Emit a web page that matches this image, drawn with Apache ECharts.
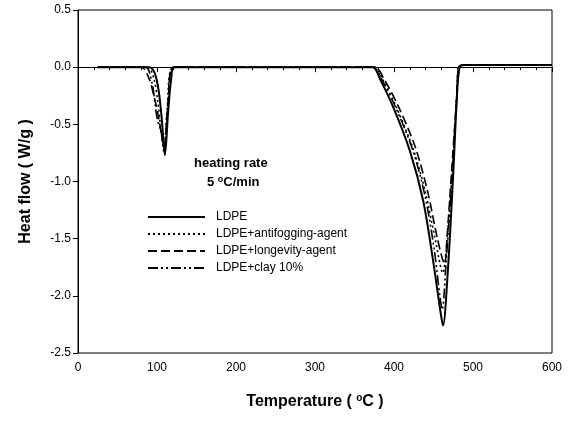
<!DOCTYPE html>
<html>
<head>
<meta charset="utf-8">
<script src="https://cdn.jsdelivr.net/npm/echarts@6/dist/echarts.min.js"></script>
<style>html,body{margin:0;padding:0;background:#fff}#c{width:576px;height:421px}</style>
</head>
<body>
<div id="c"></div>
<script>
// ---- data ----
const seriesNames = ['LDPE', 'LDPE+antifogging-agent', 'LDPE+longevity-agent', 'LDPE+clay 10%'];

const tLDPE = [25, 90, 97, 102, 106, 110, 114, 118, 122, 200, 300, 373, 382, 399, 420, 437, 449, 458, 462, 468, 475, 479, 483, 490, 600];
const hLDPE = [0, 0, -0.05, -0.2, -0.45, -0.77, -0.4, -0.1, 0, 0, 0, 0, -0.1, -0.35, -0.73, -1.17, -1.67, -2.1, -2.26, -1.8, -0.93, -0.35, 0, 0.02, 0.02];

const tAnti = [25, 88, 96, 101, 105, 109, 113, 121, 200, 300, 374, 385, 403, 425, 440, 452, 462, 466, 474, 479, 482, 490, 600];
const hAnti = [0, 0, -0.1, -0.3, -0.55, -0.72, -0.35, 0, 0, 0, 0, -0.1, -0.35, -0.73, -1.1, -1.5, -1.8, -1.6, -0.9, -0.3, 0, 0.02, 0.02];

const tLong = [25, 80, 90, 96, 101, 106, 109, 114, 121, 200, 300, 376, 387, 406, 427, 443, 455, 464, 467, 474, 479, 482, 490, 600];
const hLong = [0, 0, -0.1, -0.25, -0.4, -0.6, -0.7, -0.3, 0, 0, 0, 0, -0.1, -0.35, -0.7, -1.1, -1.5, -1.72, -1.5, -0.8, -0.3, 0, 0.02, 0.02];

const tClay = [25, 85, 94, 99, 102, 105, 109, 114, 121, 200, 300, 374, 384, 402, 424, 440, 451, 458, 461, 466, 474, 479, 483, 490, 600];
const hClay = [0, 0, -0.15, -0.4, -0.5, -0.55, -0.75, -0.35, 0, 0, 0, 0, -0.1, -0.35, -0.73, -1.15, -1.6, -2.0, -2.12, -1.7, -0.9, -0.3, 0, 0.02, 0.02];

const xTicks = [0, 100, 200, 300, 400, 500, 600];
const yTicks = [0.5, 0.0, -0.5, -1.0, -1.5, -2.0, -2.5];

// ---- chart ----
function pairs(t, h) { return t.map((v, i) => [v, h[i]]); }
const font = '"Liberation Sans", Arial, sans-serif';
const styles = [
  { width: 2, type: 'solid' },
  { width: 1.6, type: [2, 3] },
  { width: 1.6, type: [9, 4] },
  { width: 1.6, type: [10, 3, 2, 3, 2, 3] }
];
const datas = [pairs(tLDPE, hLDPE), pairs(tAnti, hAnti), pairs(tLong, hLong), pairs(tClay, hClay)];

const chart = echarts.init(document.getElementById('c'), null, { renderer: 'canvas' });
chart.setOption({
  animation: false,
  backgroundColor: '#fff',
  textStyle: { fontFamily: font },
  grid: { left: 78, right: 24, top: 10, bottom: 68, show: true, borderColor: '#000', borderWidth: 1 },
  xAxis: {
    type: 'value', min: xTicks[0], max: xTicks[xTicks.length - 1], interval: 100,
    axisLine: { lineStyle: { color: '#000', width: 1 } },
    axisTick: { length: 5, lineStyle: { color: '#000' } },
    minorTick: { show: true, splitNumber: 5, length: 3, lineStyle: { color: '#000' } },
    splitLine: { show: false },
    axisLabel: { color: '#000', fontSize: 12, fontFamily: font, margin: 9 },
    name: 'Temperature ( {sup|o}C )', nameLocation: 'middle', nameGap: 40,
    nameTextStyle: { fontSize: 16, fontWeight: 'bold', color: '#000', fontFamily: font,
      rich: { sup: { fontSize: 10, fontWeight: 'bold', verticalAlign: 'top', padding: [0, 0, 8, 0] } } }
  },
  yAxis: {
    type: 'value', min: yTicks[yTicks.length - 1], max: yTicks[0], interval: 0.5,
    axisLine: { lineStyle: { color: '#000', width: 1 } },
    axisTick: { length: 5, lineStyle: { color: '#000' } },
    splitLine: { show: false },
    axisLabel: { color: '#000', fontSize: 12, fontFamily: font, margin: 7, formatter: v => v.toFixed(1) },
    name: 'Heat flow ( W/g )', nameLocation: 'middle', nameGap: 44,
    nameTextStyle: { fontSize: 16, fontWeight: 'bold', color: '#000', fontFamily: font }
  },
  legend: {
    orient: 'vertical', left: 142, top: 206, itemWidth: 57, itemHeight: 10, itemGap: 5,
    itemStyle: { opacity: 0 },
    textStyle: { fontSize: 12, color: '#000', fontFamily: font, padding: [0, 0, 0, 6] },
    data: seriesNames
  },
  graphic: [
    { type: 'text', left: 194, top: 157, style: { text: 'heating rate', font: 'bold 13px ' + font, fill: '#000' } },
    { type: 'text', left: 207, top: 175, style: { text: '5 {s|o}C/min', font: 'bold 13px ' + font, fill: '#000',
        rich: { s: { fontSize: 9, fontWeight: 'bold', fontFamily: font, verticalAlign: 'top', padding: [0, 0, 6, 0] } } } }
  ],
  series: seriesNames.map((n, i) => ({
    name: n, type: 'line', data: datas[i], showSymbol: false, symbol: 'none', smooth: 0.3,
    lineStyle: { color: '#000', width: styles[i].width, type: styles[i].type },
    itemStyle: { color: '#000' }
  }))
});
</script>
</body>
</html>
